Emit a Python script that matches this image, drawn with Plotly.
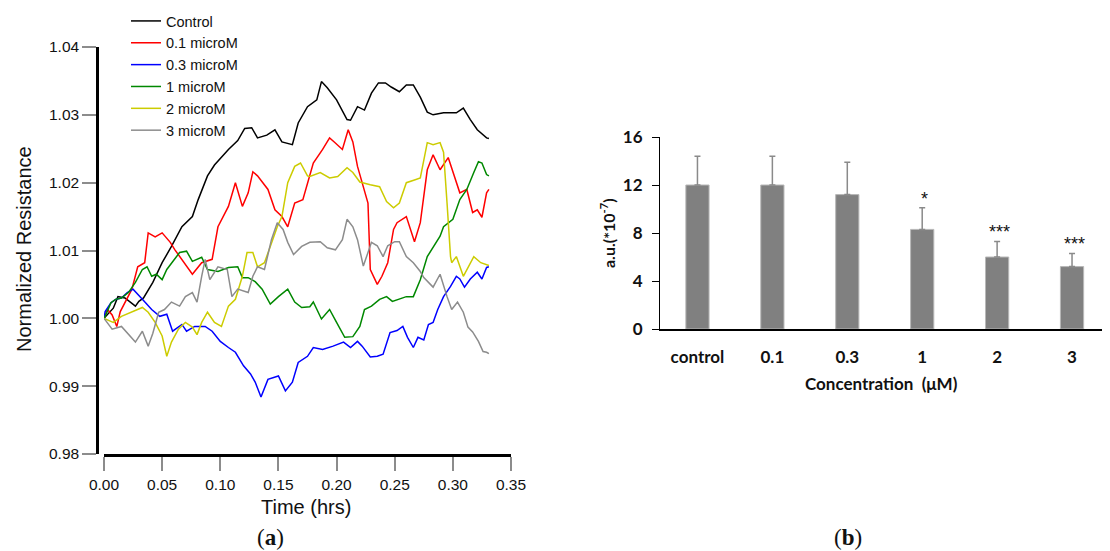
import plotly.graph_objects as go

# ---------------- Panel (a): normalized resistance vs time ----------------
series_names = ["Control", "0.1 microM", "0.3 microM", "1 microM", "2 microM", "3 microM"]
series_colors = ["#000000", "#ff0000", "#0000ff", "#008800", "#cccc00", "#8c8c8c"]

t_control = [0, 0.004, 0.008, 0.012, 0.018, 0.024, 0.027, 0.030, 0.034, 0.042, 0.050, 0.058, 0.067, 0.076,
             0.081, 0.089, 0.095, 0.107, 0.115, 0.121, 0.127, 0.132, 0.140, 0.147, 0.153, 0.162, 0.167, 0.175,
             0.183, 0.187, 0.192, 0.200, 0.209, 0.212, 0.218, 0.224, 0.230, 0.236, 0.242, 0.247, 0.254, 0.260,
             0.266, 0.272, 0.278, 0.283, 0.292, 0.303, 0.309, 0.315, 0.321, 0.329, 0.331]
r_control = [1.000, 1.0008, 1.0015, 1.0032, 1.0030, 1.0022, 1.0018, 1.0025, 1.003, 1.0053, 1.0082, 1.0106, 1.0135,
             1.015, 1.0175, 1.021, 1.0226, 1.0249, 1.0262, 1.028, 1.0281, 1.0266, 1.027, 1.0278, 1.026, 1.0256,
             1.0288, 1.0312, 1.0322, 1.0349, 1.0340, 1.0322, 1.0293, 1.0292, 1.0312, 1.0307, 1.0332, 1.0347,
             1.0347, 1.0341, 1.0334, 1.0344, 1.0344, 1.0326, 1.0304, 1.030, 1.0303, 1.0303, 1.031, 1.0293,
             1.0278, 1.0266, 1.0265]

t_01 = [0, 0.003, 0.007, 0.011, 0.014, 0.018, 0.024, 0.029, 0.035, 0.038, 0.044, 0.050, 0.057, 0.061, 0.067,
        0.076, 0.084, 0.093, 0.098, 0.107, 0.113, 0.119, 0.124, 0.128, 0.132, 0.141, 0.147, 0.153, 0.158, 0.164,
        0.171, 0.177, 0.180, 0.188, 0.194, 0.198, 0.205, 0.210, 0.214, 0.218, 0.223, 0.227, 0.229, 0.232, 0.235,
        0.239, 0.244, 0.249, 0.252, 0.260, 0.267, 0.272, 0.278, 0.283, 0.289, 0.296, 0.302, 0.306, 0.312, 0.317,
        0.321, 0.325, 0.329, 0.331]
r_01 = [1.000, 1.0013, 1.0005, 0.9988, 1.0010, 1.0023, 1.0043, 1.0076, 1.0082, 1.0126, 1.0120, 1.0126, 1.0112,
        1.0101, 1.0087, 1.0065, 1.0082, 1.0087, 1.0135, 1.0165, 1.020, 1.0165, 1.0185, 1.0216, 1.021, 1.019,
        1.016, 1.015, 1.0135, 1.017, 1.0175, 1.021, 1.0229, 1.0249, 1.0266, 1.026, 1.0249, 1.0278, 1.026, 1.0224,
        1.0194, 1.017, 1.0072, 1.0062, 1.005, 1.0062, 1.0082, 1.0131, 1.0141, 1.015, 1.0113, 1.0141, 1.0219,
        1.0241, 1.0219, 1.0237, 1.0204, 1.0185, 1.019, 1.0156, 1.016, 1.0149, 1.0185, 1.019]

t_03 = [0, 0.001, 0.006, 0.010, 0.015, 0.020, 0.025, 0.029, 0.033, 0.041, 0.048, 0.054, 0.059, 0.067, 0.071,
        0.078, 0.087, 0.093, 0.100, 0.107, 0.113, 0.120, 0.126, 0.130, 0.135, 0.141, 0.150, 0.156, 0.162, 0.167,
        0.175, 0.180, 0.188, 0.197, 0.206, 0.212, 0.218, 0.222, 0.229, 0.235, 0.240, 0.246, 0.252, 0.257, 0.261,
        0.266, 0.270, 0.275, 0.279, 0.283, 0.287, 0.292, 0.298, 0.303, 0.306, 0.310, 0.315, 0.321, 0.325, 0.329,
        0.331]
r_03 = [1.000, 1.001, 1.0023, 1.0028, 1.0030, 1.0038, 1.0043, 1.0035, 1.0028, 1.0013, 1.0003, 1.0006, 0.9981,
        0.9991, 0.9981, 0.9988, 0.9988, 0.9981, 0.9966, 0.9957, 0.995, 0.993, 0.9918, 0.9906, 0.9884, 0.991,
        0.9915, 0.9893, 0.9906, 0.9935, 0.9944, 0.9957, 0.9954, 0.9959, 0.9965, 0.9957, 0.9966, 0.9959, 0.9943,
        0.9944, 0.9947, 0.9979, 0.9982, 0.9988, 0.9972, 0.9957, 0.9972, 0.9968, 0.9991, 0.9994, 1.0013, 1.0032,
        1.0047, 1.0062, 1.0058, 1.0046, 1.0058, 1.0068, 1.0058, 1.0075, 1.0076]

t_1 = [0, 0.001, 0.006, 0.010, 0.015, 0.021, 0.027, 0.033, 0.037, 0.041, 0.045, 0.050, 0.054, 0.061, 0.065,
       0.071, 0.076, 0.084, 0.089, 0.098, 0.107, 0.115, 0.119, 0.124, 0.130, 0.136, 0.143, 0.150, 0.158, 0.164,
       0.170, 0.177, 0.180, 0.187, 0.194, 0.200, 0.207, 0.214, 0.220, 0.224, 0.230, 0.237, 0.243, 0.248, 0.254,
       0.260, 0.266, 0.272, 0.278, 0.283, 0.289, 0.292, 0.300, 0.306, 0.312, 0.318, 0.322, 0.325, 0.329, 0.331]
r_1 = [1.000, 1.0003, 1.0023, 1.0028, 1.0030, 1.0038, 1.0053, 1.0072, 1.0076, 1.0062, 1.0065, 1.0057, 1.0072,
       1.0087, 1.0097, 1.0099, 1.0084, 1.009, 1.0072, 1.0069, 1.0075, 1.0076, 1.006, 1.006, 1.0054, 1.0043,
       1.0021, 1.0032, 1.0043, 1.0024, 1.0016, 1.0017, 1.0024, 0.9999, 1.0013, 0.9994, 0.9972, 0.9973, 0.9988,
       1.0013, 1.0018, 1.0028, 1.0032, 1.0025, 1.0028, 1.0032, 1.0032, 1.0057, 1.0091, 1.0104, 1.0121, 1.0135,
       1.0146, 1.0175, 1.019, 1.0215, 1.0231, 1.0229, 1.0212, 1.021]

t_2 = [0, 0.008, 0.015, 0.024, 0.033, 0.038, 0.044, 0.050, 0.054, 0.058, 0.064, 0.070, 0.076, 0.080, 0.084,
       0.089, 0.095, 0.101, 0.107, 0.113, 0.119, 0.123, 0.128, 0.132, 0.138, 0.143, 0.149, 0.153, 0.158, 0.164,
       0.169, 0.175, 0.177, 0.186, 0.194, 0.201, 0.209, 0.214, 0.220, 0.229, 0.237, 0.243, 0.249, 0.254, 0.260,
       0.267, 0.272, 0.278, 0.283, 0.289, 0.292, 0.295, 0.298, 0.299, 0.303, 0.309, 0.318, 0.324, 0.329, 0.331]
r_2 = [1.000, 0.9994, 1.0003, 1.0009, 1.0016, 1.0009, 0.9994, 0.9974, 0.9944, 0.9965, 0.9984, 0.9994, 0.9987,
       0.9976, 0.9994, 1.0009, 0.9994, 0.9988, 1.0018, 1.0028, 1.0062, 1.0097, 1.0097, 1.0076, 1.0082, 1.0106,
       1.0135, 1.015, 1.020, 1.0224, 1.0229, 1.021, 1.0209, 1.0215, 1.0207, 1.0209, 1.0222, 1.0215, 1.0201,
       1.0197, 1.0194, 1.0172, 1.0163, 1.0170, 1.020, 1.0204, 1.0207, 1.0259, 1.0256, 1.0259, 1.0245, 1.017,
       1.0091, 1.0082, 1.0091, 1.0062, 1.0091, 1.0082, 1.0079, 1.0078]

t_3 = [0, 0.007, 0.015, 0.021, 0.027, 0.033, 0.038, 0.042, 0.047, 0.052, 0.058, 0.065, 0.070, 0.076, 0.080,
       0.084, 0.087, 0.091, 0.098, 0.106, 0.110, 0.115, 0.124, 0.128, 0.132, 0.138, 0.144, 0.149, 0.154, 0.158,
       0.163, 0.170, 0.177, 0.186, 0.192, 0.199, 0.205, 0.209, 0.214, 0.218, 0.223, 0.230, 0.235, 0.240, 0.244,
       0.250, 0.254, 0.260, 0.266, 0.272, 0.275, 0.283, 0.289, 0.295, 0.299, 0.304, 0.309, 0.313, 0.317, 0.322,
       0.326, 0.329, 0.331]
r_3 = [1.000, 0.9984, 0.9988, 0.9976, 0.9965, 0.9981, 0.9959, 0.9978, 1.0009, 1.0013, 1.0024, 1.0018, 1.0032,
       1.0038, 1.0024, 1.0062, 1.0087, 1.0057, 1.0076, 1.0072, 1.0032, 1.0043, 1.0038, 1.0062, 1.0076, 1.0072,
       1.0116, 1.0141, 1.0131, 1.0112, 1.0094, 1.0106, 1.0112, 1.0113, 1.0104, 1.0101, 1.0116, 1.0146, 1.0135,
       1.0116, 1.0077, 1.0112, 1.0107, 1.0091, 1.0107, 1.0113, 1.0113, 1.0091, 1.0082, 1.0069, 1.0060, 1.0046,
       1.0065, 1.0032, 1.0013, 1.0024, 1.0009, 0.9987, 0.998, 0.9966, 0.9951, 0.995, 0.9948]

time_series = [t_control, t_01, t_03, t_1, t_2, t_3]
resist_series = [r_control, r_01, r_03, r_1, r_2, r_3]
for tt, rr in zip(time_series, resist_series):
    assert len(tt) == len(rr), (len(tt), len(rr))

x_ticks_a = [0.00, 0.05, 0.10, 0.15, 0.20, 0.25, 0.30, 0.35]
y_ticks_a = [0.98, 0.99, 1.00, 1.01, 1.02, 1.03, 1.04]

# ---------------- Panel (b): bar chart ----------------
conc_labels = ["control", "0.1", "0.3", "1", "2", "3"]
bar_values = [12.0, 12.0, 11.2, 8.3, 6.0, 5.2]
bar_errors = [2.4, 2.4, 2.7, 1.8, 1.3, 1.1]
signif = ["", "", "", "*", "***", "***"]
y_ticks_b = [0, 4, 8, 12, 16]

W, H = 1110, 551
def px_x(p): return p / W
def px_y(p): return 1 - p / H

fig = go.Figure()

for name, col, tt, rr in zip(series_names, series_colors, time_series, resist_series):
    fig.add_trace(go.Scatter(x=tt, y=rr, mode="lines", name=name,
                             line=dict(color=col, width=1.5), xaxis="x", yaxis="y"))

fig.add_trace(go.Bar(x=conc_labels, y=bar_values, xaxis="x2", yaxis="y2", showlegend=False,
                     width=0.31,
                     marker=dict(color="#808080", line=dict(color="#b8b8b8", width=1)),
                     error_y=dict(type="data", array=bar_errors, arrayminus=[0] * len(bar_errors),
                                  symmetric=False, color="#8a8a8a", thickness=1.5, width=3)))

sans = "Liberation Sans"
annotations = []
for i, (v, e, s) in enumerate(zip(bar_values, bar_errors, signif)):
    if s:
        annotations.append(dict(x=i, y=v + e, xref="x2", yref="y2", text=s, showarrow=False,
                                xanchor="center", yanchor="bottom", yshift=-3, xshift=2,
                                font=dict(family=sans, size=18, color="#111111")))

def ann(x, y, text, font, angle=0):
    return dict(x=px_x(x), y=px_y(y), xref="paper", yref="paper", text=text, textangle=angle,
                showarrow=False, xanchor="center", yanchor="middle", font=font)

annotations += [
    ann(24, 249, "Normalized Resistance", dict(family=sans, size=20, color="#111"), -90),
    ann(306, 507, "Time (hrs)", dict(family=sans, size=20, color="#111")),
    ann(607, 233, "<b>a.u.(*10<sup>-7</sup>)</b>", dict(family="Lato", size=16, color="#111"), -90),
    ann(881, 383, "<b>Concentration  (μM)</b>", dict(family="Lato", size=17, color="#111")),
    ann(270, 537, "(<b>a</b>)", dict(family="Liberation Serif", size=23, color="#111")),
    ann(848, 537, "(<b>b</b>)", dict(family="Liberation Serif", size=23, color="#111")),
]

fig.update_layout(
    width=W, height=H, margin=dict(l=0, r=0, t=0, b=0, pad=0, autoexpand=False),
    paper_bgcolor="white", plot_bgcolor="white",
    showlegend=True,
    legend=dict(x=px_x(126), y=px_y(5), xanchor="left", yanchor="top",
                font=dict(family=sans, size=14.5, color="#111"), bgcolor="rgba(0,0,0,0)",
                itemwidth=30),
    xaxis=dict(domain=[px_x(104), px_x(511)], range=[0, 0.35], tickvals=x_ticks_a,
               tickformat=".2f", showline=True, linecolor="black", linewidth=2.5,
               ticks="outside", ticklen=14, tickwidth=1.5, tickcolor="#8c8c8c",
               showgrid=False, zeroline=False, anchor="y", automargin=False,
               tickfont=dict(family=sans, size=15.5, color="#111"), ticklabelstandoff=1),
    yaxis=dict(domain=[px_y(454), px_y(47)], range=[0.98, 1.04], tickvals=y_ticks_a,
               tickformat=".2f", showline=True, linecolor="black", linewidth=2.5,
               ticks="outside", ticklen=14, tickwidth=1.5, tickcolor="#8c8c8c",
               showgrid=False, zeroline=False, anchor="free", position=px_x(97), automargin=False,
               tickfont=dict(family=sans, size=15.5, color="#111")),
    xaxis2=dict(domain=[px_x(660), px_x(1102)], range=[-0.5, 5.4], type="category",
                showline=True, linecolor="black", linewidth=1.5, ticks="", showgrid=False,
                zeroline=False, anchor="y2", ticklabelstandoff=12, automargin=False,
                tickfont=dict(family="Lato", size=17, color="#111", weight="bold")),
    yaxis2=dict(domain=[px_y(329), px_y(137)], range=[0, 16], tickvals=y_ticks_b,
                showline=True, linecolor="black", linewidth=1, ticks="outside", ticklen=7,
                tickwidth=1, tickcolor="black", showgrid=False, zeroline=False, anchor="x2",
                ticklabelstandoff=6, automargin=False,
                tickfont=dict(family="Lato", size=17, color="#111", weight="bold")),
    annotations=annotations,
)

fig.write_html("out.html", config={"displayModeBar": False},
               post_script="document.body.style.margin='0';")
